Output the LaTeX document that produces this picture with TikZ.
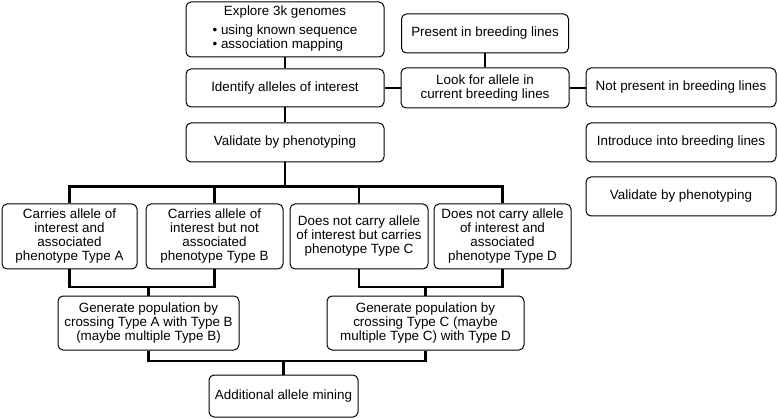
\documentclass[tikz,border=0pt]{standalone}
\usepackage{fontspec}
\setmainfont{Liberation Sans}
\begin{document}
\begin{tikzpicture}[x=1pt,y=-1pt,
  box/.style={draw, line width=1pt, rounded corners=5pt, align=center, inner sep=1pt,
    font=\fontsize{13.4}{14}\selectfont},
  conn/.style={line width=2.3pt}]
\useasboundingbox (0,0) rectangle (778,419);
% top column
\node[box, minimum width=198pt, minimum height=55pt] (explore) at (285,29.5)
  {Explore 3k genomes\\[5pt]\begin{tabular}{@{}l@{}}\textbullet\ using known sequence\\\textbullet\ association mapping\end{tabular}};
\node[box, minimum width=198pt, minimum height=38pt] (identify) at (285,88) {Identify alleles of interest};
\node[box, minimum width=198pt, minimum height=39pt] (validate) at (285,142.5) {Validate by phenotyping};
% right part
\node[box, minimum width=167pt, minimum height=39pt] (present) at (485,33.5) {Present in breeding lines};
\node[box, minimum width=168pt, minimum height=40pt] (look) at (485,88) {Look for allele in\\current breeding lines};
\node[box, minimum width=190pt, minimum height=39pt] (notpresent) at (681,87.5) {Not present in breeding lines};
\node[box, minimum width=190pt, minimum height=39pt] (introduce) at (681,142.5) {Introduce into breeding lines};
\node[box, minimum width=190pt, minimum height=39pt] (validate2) at (681,196.5) {Validate by phenotyping};
% types
\node[box, minimum width=135pt, minimum height=65pt] (typeA) at (69.5,236.5) {Carries allele of\\interest and\\associated\\phenotype Type A};
\node[box, minimum width=137pt, minimum height=65pt] (typeB) at (214.5,236.5) {Carries allele of\\interest but not\\associated\\phenotype Type B};
\node[box, minimum width=138pt, minimum height=65pt] (typeC) at (359,236.5) {Does not carry allele\\of interest but carries\\phenotype Type C};
\node[box, minimum width=137pt, minimum height=65pt] (typeD) at (502.5,236.5) {Does not carry allele\\of interest and\\associated\\phenotype Type D};
% generate
\node[box, minimum width=181pt, minimum height=54pt] (gen1) at (148.5,323) {Generate population by\\crossing Type A with Type B\\(maybe multiple Type B)};
\node[box, minimum width=197pt, minimum height=54pt] (gen2) at (425.5,323) {Generate population by\\crossing Type C (maybe\\multiple Type C) with Type D};
\node[box, minimum width=149pt, minimum height=42pt] (mining) at (283.5,396) {Additional allele mining};
% connectors
\draw[conn] (explore.south) -- (identify.north);
\draw[conn] (identify.south) -- (validate.north);
\draw[conn] (identify.east) -- (look.west);
\draw[conn] (present.south) -- (look.north);
\draw[conn] (look.east) -- (notpresent.west |- look.east);
\draw[conn] (validate.south) -- ++(0,24) coordinate (bus1);
\draw[conn] (typeA.north) |- (bus1) -| (typeD.north);
\draw[conn] (typeB.north) -- (typeB.north |- bus1);
\draw[conn] (typeC.north) -- (typeC.north |- bus1);
\coordinate (busAB) at (gen1.north |- 0,287);
\draw[conn] (typeA.south) |- (busAB) -| (typeB.south);
\draw[conn] (busAB) -- (gen1.north);
\coordinate (busCD) at (gen2.north |- 0,287);
\draw[conn] (typeC.south) |- (busCD) -| (typeD.south);
\draw[conn] (busCD) -- (gen2.north);
\coordinate (busG) at (mining.north |- 0,361);
\draw[conn] (gen1.south) |- (busG) -| (gen2.south);
\draw[conn] (busG) -- (mining.north);
\end{tikzpicture}
\end{document}
